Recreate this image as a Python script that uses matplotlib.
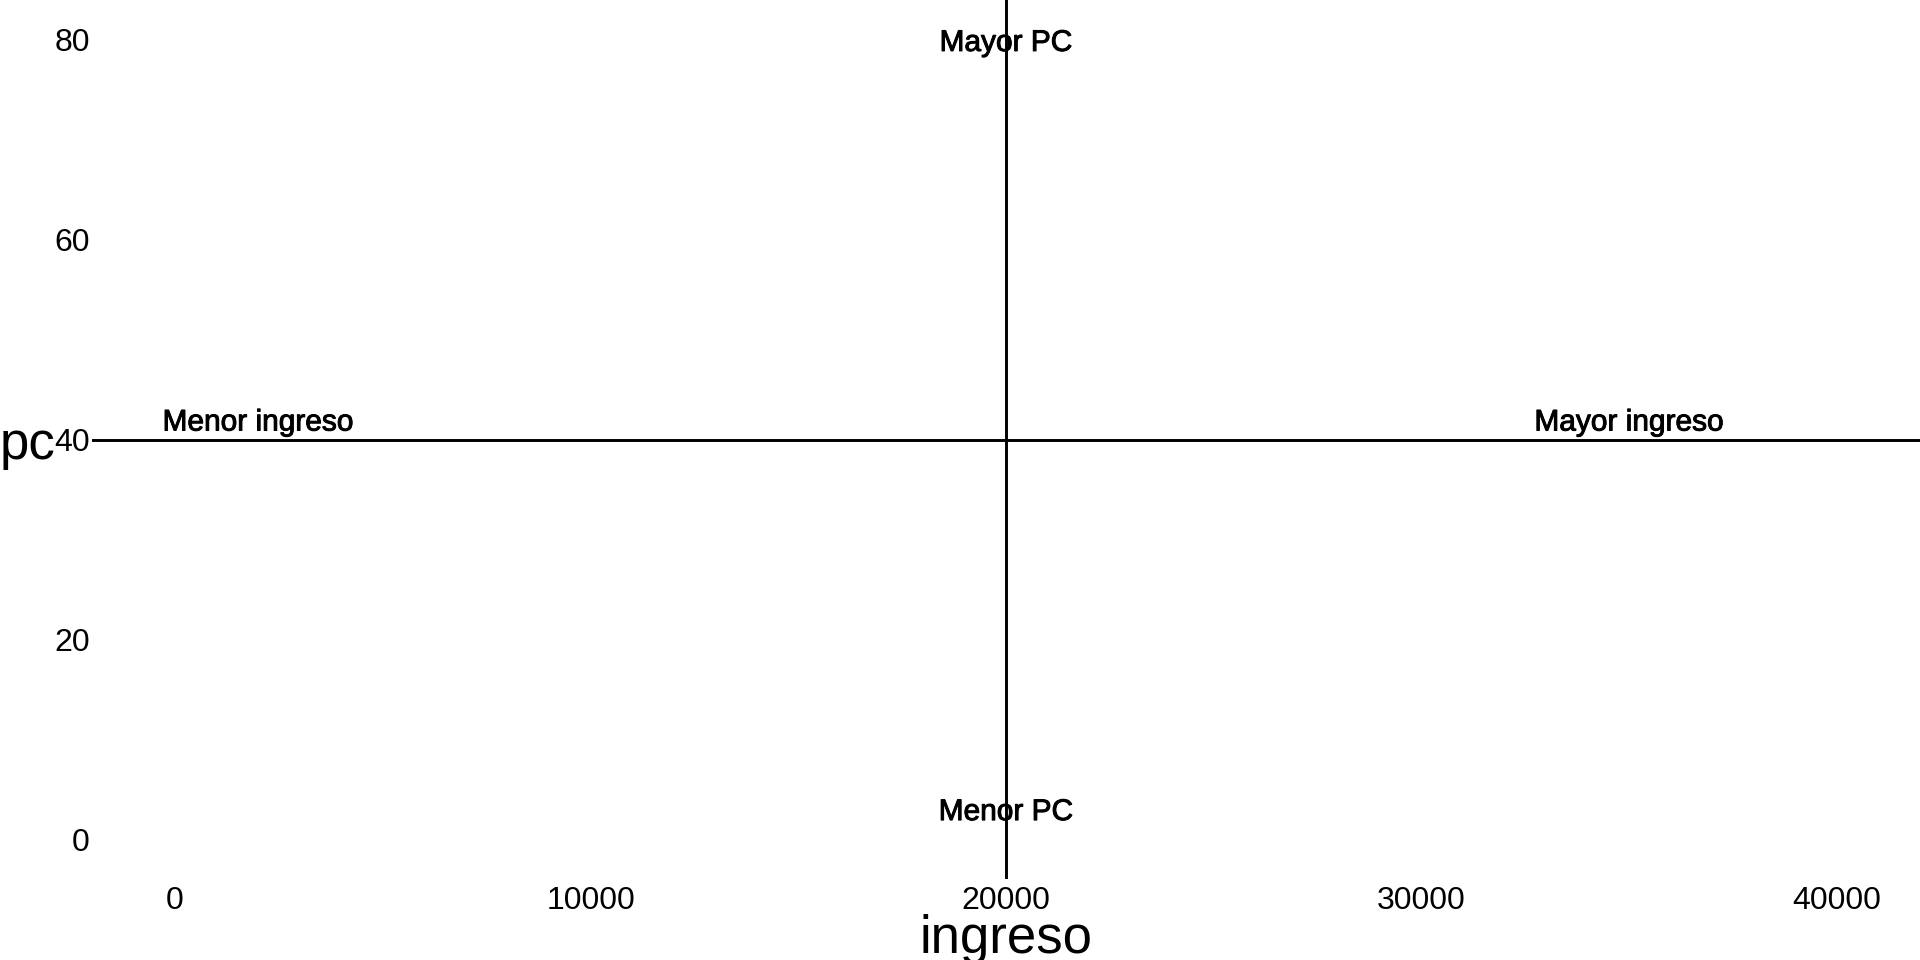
import matplotlib
matplotlib.use('Agg')
import matplotlib.pyplot as plt
import matplotlib.patheffects as pe

# quadrant labels and where they sit
quad_labels = ['Mayor PC', 'Menor PC', 'Menor ingreso', 'Mayor ingreso']
label_x = [20000, 20000, 2000, 35000]
label_y = [80, 3, 42, 42]

# reference lines (mean income / mean pc)
ref_x = 20000
ref_y = 40

x_ticks = [0, 10000, 20000, 30000, 40000]
y_ticks = [0, 20, 40, 60, 80]
x_range = [0, 40000]
y_range = [0, 80]

plt.rcParams['font.family'] = ['Liberation Sans', 'DejaVu Sans']

fig = plt.figure(figsize=(19.2, 9.6), dpi=100)
ax = fig.add_axes([92 / 1920, 81 / 960, 1828 / 1920, 879 / 960])

ax.axhline(ref_y, color='black', lw=2.1)
ax.axvline(ref_x, color='black', lw=2.1)

for txt, lx, ly in zip(quad_labels, label_x, label_y):
    ax.text(lx, ly, txt, ha='center', va='center_baseline', fontsize=21.5, color='black',
            path_effects=[pe.withStroke(linewidth=0.7, foreground='black')])

dx = (x_range[1] - x_range[0]) * 0.05
dy = (y_range[1] - y_range[0]) * 0.05
ax.set_xlim(x_range[0] - dx, x_range[1] + dx)
ax.set_ylim(y_range[0] - dy, y_range[1] + dy)

ax.set_xticks(x_ticks)
ax.set_yticks(y_ticks)
ax.set_xticklabels([str(t) for t in x_ticks])
ax.set_yticklabels([str(t) for t in y_ticks])
ax.tick_params(axis='x', length=0, pad=5, labelsize=23, colors='black')
ax.tick_params(axis='y', length=0, pad=1.5, labelsize=23, colors='black')

for s in ax.spines.values():
    s.set_visible(False)

ax.set_xlabel('ingreso', fontsize=38, va='baseline')
ax.xaxis.set_label_coords(0.5, -0.0842)
ax.set_ylabel('pc', fontsize=38, rotation=0, ha='left', va='baseline')
ax.yaxis.set_label_coords(-0.0503, 0.478)

fig.savefig('out.png', dpi=100, facecolor='white')
